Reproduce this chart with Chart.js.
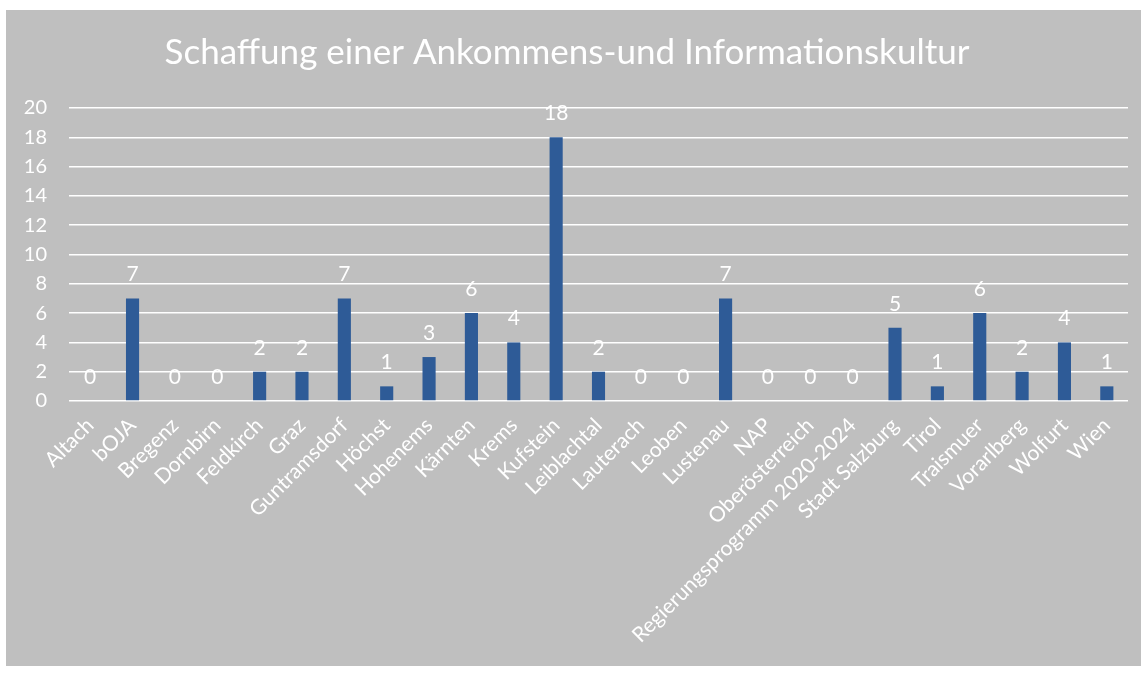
<!DOCTYPE html>
<html>
<head>
<meta charset="utf-8">
<script src="https://cdn.jsdelivr.net/npm/chart.js@4.4.1/dist/chart.umd.min.js"></script>
<style>
  html, body { margin: 0; padding: 0; background: #ffffff; }
  #wrap {
    position: absolute;
    left: 6px;
    top: 10px;
    width: 1135px;
    height: 656px;
    background: #bfbfbf;
  }
</style>
</head>
<body>
<div id="wrap"><canvas id="chart"></canvas></div>
<script>
const chartTitle = "Schaffung einer Ankommens-und Informationskultur";

const categories = [
  "Altach", "bOJA", "Bregenz", "Dornbirn", "Feldkirch", "Graz",
  "Guntramsdorf", "Höchst", "Hohenems", "Kärnten", "Krems", "Kufstein",
  "Leiblachtal", "Lauterach", "Leoben", "Lustenau", "NAP",
  "Oberösterreich", "Regierungsprogramm 2020-2024", "Stadt Salzburg",
  "Tirol", "Traismuer", "Vorarlberg", "Wolfurt", "Wien"
];

const counts = [0, 7, 0, 0, 2, 2, 7, 1, 3, 6, 4, 18, 2, 0, 0, 7, 0, 0, 0, 5, 1, 6, 2, 4, 1];

const yMin = 0;
const yMax = 20;
const yStep = 2;

const FONT = "Lato, 'Open Sans', sans-serif";
const WHITE = "#ffffff";

// value labels above each bar, like the Excel data labels
const valueLabels = {
  id: "valueLabels",
  afterDatasetsDraw(chart) {
    const ctx = chart.ctx;
    const meta = chart.getDatasetMeta(0);
    ctx.save();
    ctx.fillStyle = WHITE;
    ctx.font = "21px " + FONT;
    ctx.textAlign = "center";
    ctx.textBaseline = "alphabetic";
    meta.data.forEach((bar, i) => {
      ctx.fillText(String(counts[i]), bar.x, bar.y - 17);
    });
    ctx.restore();
  }
};

const ctx = document.getElementById("chart").getContext("2d");
new Chart(ctx, {
  type: "bar",
  data: {
    labels: categories,
    datasets: [
      {
        label: "Anzahl",
        data: counts,
        backgroundColor: "#2e5b97",
        borderWidth: 0,
        barPercentage: 0.31,
        categoryPercentage: 1.0
      }
    ]
  },
  options: {
    responsive: true,
    maintainAspectRatio: false,
    animation: false,
    layout: {
      padding: { left: 0, right: 13, top: 0, bottom: 0 }
    },
    plugins: {
      legend: { display: false },
      tooltip: { enabled: false },
      title: {
        display: true,
        text: chartTitle,
        color: WHITE,
        font: { family: FONT, size: 35, weight: "normal" },
        padding: { top: 22, bottom: 34 }
      }
    },
    scales: {
      x: {
        grid: { display: false, drawTicks: false },
        border: { display: false },
        ticks: {
          color: WHITE,
          font: { family: FONT, size: 21 },
          minRotation: 45,
          maxRotation: 45,
          autoSkip: false,
          padding: 12
        },
        afterFit: (s) => { s.height = 265; }
      },
      y: {
        min: yMin,
        max: yMax,
        grid: { color: WHITE, lineWidth: 1.5, drawTicks: false },
        border: { display: false },
        ticks: {
          stepSize: yStep,
          color: WHITE,
          font: { family: FONT, size: 20 },
          padding: 22
        },
        afterFit: (s) => { s.width = 63; }
      }
    }
  },
  plugins: [valueLabels]
});
</script>
</body>
</html>
